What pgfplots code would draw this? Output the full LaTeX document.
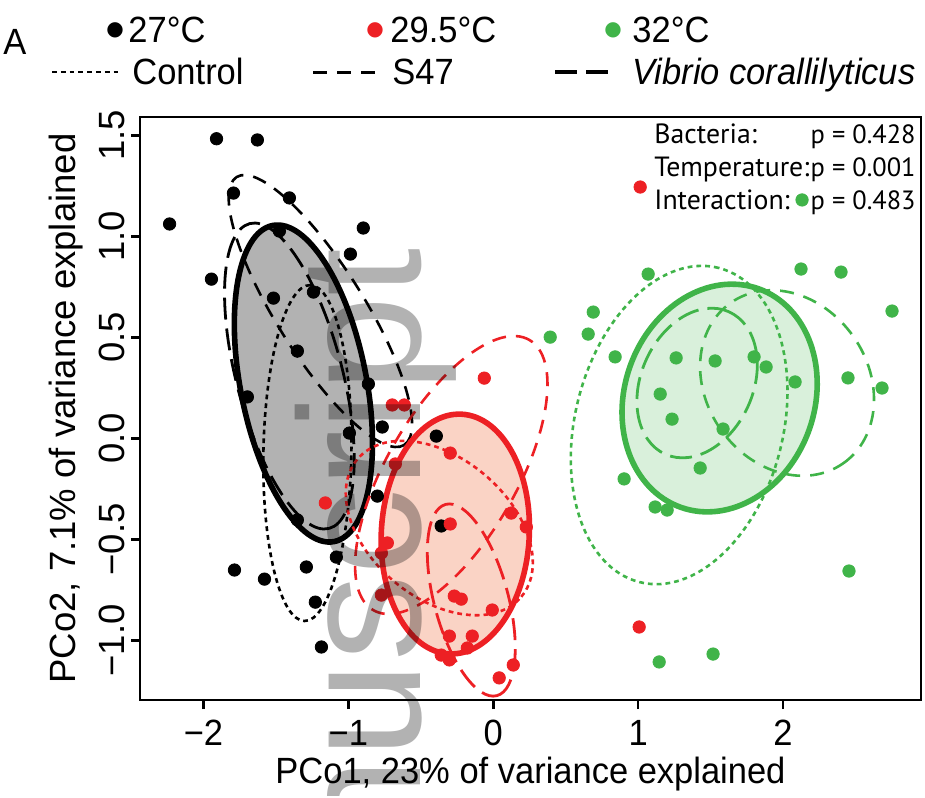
\documentclass[border=0pt]{standalone}
\usepackage{fontspec}
\usepackage{pgfplots}
\pgfplotsset{compat=1.18}
\setmainfont[FakeStretch=0.945]{Liberation Sans}
\newfontfamily\vfont{Liberation Sans}
\newfontfamily\pfont{PT Sans}
\newfontfamily\dfont{DejaVu Sans}

\definecolor{cred}{RGB}{237,32,36}
\definecolor{cgreen}{RGB}{64,180,73}
\definecolor{redfill}{RGB}{240,130,90}

\tikzset{
  ctrl/.style={dash pattern=on 2.4pt off 2pt, line width=1.3pt},
  sfs/.style={dash pattern=on 7pt off 5pt, line width=1.3pt},
  vib/.style={dash pattern=on 11pt off 4.5pt, line width=1.4pt},
  sol/.style={line width=2.8pt},
}
% style, cx, cy, semi-axis a (pt), semi-axis b (pt), angle
\newcommand{\ellip}[6]{%
  \draw[#1, rotate around={#6:(axis cs:#2,#3)}] (axis cs:#2,#3) ellipse [x radius=#4pt, y radius=#5pt];}

\newcommand{\lbl}{\fontsize{18.25}{20}\selectfont}

\begin{document}
\begin{tikzpicture}
\begin{scope}[x=0.5pt,y=-0.5pt]
  \path[use as bounding box] (0,0) rectangle (925,795);
\end{scope}

\begin{axis}[
  at={(70pt,-350pt)}, anchor=south west,
  scale only axis, width=390.5pt, height=291.5pt,
  xmin=-2.438, xmax=2.952, ymin=-1.2955, ymax=1.5906,
  axis line style={line width=1.25pt},
  tick style={line width=1.25pt, black},
  tick align=outside, tick pos=left,
  major tick length=4.5pt,
  xtick={-2,-1,0,1,2}, xticklabels={−2,−1,0,1,2},
  ytick={-1,-0.5,0,0.5,1,1.5}, yticklabels={−1.0,−0.5,0.0,0.5,1.0,1.5},
  xticklabel style={font=\lbl, anchor=base, yshift=-18pt},
  yticklabel style={font=\vfont\fontsize{18.25}{20}\selectfont, xshift=-3.5pt, rotate=90, anchor=base},
  xlabel={PCo1, 23\% of variance explained},
  ylabel={PCo2, 7.1\% of variance explained},
  xlabel style={font=\lbl, at={(axis description cs:0.5,-0.1424)}, anchor=base},
  ylabel style={font=\vfont\fontsize{18.25}{20}\selectfont, at={(axis description cs:-0.0832,0.5)}, anchor=base},
]
% ellipses: black
\ellip{black, sol, fill=black, fill opacity=0.3}{-1.3103}{0.2713}{80.5}{31.5}{-79}
\ellip{black, vib}{-1.4069}{0.3084}{78.75}{26.5}{-75.4}
\ellip{black, sfs}{-1.1931}{0.6302}{79}{22}{-58}
\ellip{black, ctrl}{-1.2828}{-0.0728}{84}{22}{89}
% red
\ellip{cred, sol, fill=redfill, fill opacity=0.35}{-0.2621}{-0.4738}{60}{37}{87}
\ellip{cred, ctrl}{-0.3724}{-0.4441}{53.5}{35}{-40}
\ellip{cred, sfs}{-0.2897}{-0.1817}{78}{32.5}{60}
\ellip{cred, vib}{-0.1517}{-0.8005}{49.5}{18.5}{-75}
% green
\ellip{cgreen, sol, fill=cgreen, fill opacity=0.2}{1.5621}{0.1995}{58}{47.5}{70.4}
\ellip{cgreen, ctrl}{1.2828}{0.0658}{81}{52}{75.9}
\ellip{cgreen, vib}{1.4069}{0.2738}{39}{28}{66}
\ellip{cgreen, sfs}{2.0276}{0.2738}{49}{40.5}{-55}

% 27 C
\addplot[only marks, mark=*, mark size=3.1pt, mark options={draw=black, fill=black}] coordinates {
(-1.910,1.483) (-1.628,1.477) (-1.793,1.214) (-1.407,1.190) (-2.234,1.061)
(-0.897,1.041) (-1.476,1.026) (-0.986,0.912) (-1.945,0.788) (-1.517,0.694)
(-1.241,0.724) (-1.352,0.432) (-0.862,0.269) (-1.697,0.205) (-0.766,0.056)
(-0.993,0.026) (-0.393,0.011) (-0.800,-0.286) (-1.352,-0.404) (-0.359,-0.434)
(-1.083,-0.588) (-1.290,-0.637) (-1.786,-0.652) (-1.579,-0.697) (-1.228,-0.811)
(-1.186,-1.033)
};
% 29.5 C
\addplot[only marks, mark=*, mark size=3.1pt, mark options={draw=cred, fill=cred}] coordinates {
(1.014,1.244) (-0.062,0.298) (-0.697,0.165) (-0.614,0.165) (-0.297,-0.073)
(-0.676,-0.127) (-1.159,-0.320) (0.124,-0.370) (0.228,-0.439) (-0.297,-0.424)
(-0.731,-0.518) (-0.772,-0.568) (-0.772,-0.776) (-0.269,-0.781) (-0.221,-0.796)
(-0.007,-0.850) (-0.303,-0.979) (-0.145,-0.979) (-0.359,-1.073) (-0.303,-1.097)
(-0.179,-1.038) (0.138,-1.122) (0.041,-1.186) (1.007,-0.934)
};
% 32 C
\addplot[only marks, mark=*, mark size=3.1pt, mark options={draw=cgreen, fill=cgreen}] coordinates {
(2.131,1.180) (1.069,0.813) (2.124,0.838) (2.400,0.823) (2.752,0.630)
(0.690,0.625) (0.655,0.516) (0.393,0.501) (0.841,0.403) (1.262,0.398)
(1.531,0.383) (1.800,0.403) (1.883,0.353) (2.083,0.279) (2.448,0.299)
(2.683,0.249) (1.152,0.219) (1.234,0.095) (1.586,0.046) (1.428,-0.147)
(0.903,-0.201) (1.117,-0.340) (1.200,-0.355) (2.455,-0.657) (1.145,-1.107)
(1.517,-1.068)
};
\end{axis}

\begin{scope}[x=0.5pt,y=-0.5pt]
  % statistics
  \begin{scope}[every node/.style={anchor=base west, inner sep=0, font=\pfont\fontsize{13.9}{15}\selectfont}]
    \node at (654,143) {Bacteria:};
    \node at (654,176) {Temperature:};
    \node at (654,209) {Interaction:};
  \end{scope}
  \begin{scope}[every node/.style={anchor=base east, inner sep=0, font=\pfont\fontsize{13.2}{14}\selectfont}]
    \node at (916,143) {p = 0.428};
    \node at (916,176) {p = 0.001};
    \node at (916,209) {p = 0.483};
  \end{scope}
  % key
  \node[anchor=base west, inner sep=0, font=\lbl] at (3,54) {A};
  \node[inner sep=0, text=black, font=\dfont\fontsize{10}{10}\selectfont] at (115,30) {●};
  \node[inner sep=0, text=cred, font=\dfont\fontsize{10}{10}\selectfont] at (375,30) {●};
  \node[inner sep=0, text=cgreen, font=\dfont\fontsize{10}{10}\selectfont] at (613,30) {●};
  \begin{scope}[every node/.style={anchor=base west, inner sep=0, font=\lbl}]
    \node at (128,42) {27°C};
    \node at (390,42) {29.5°C};
    \node at (632,42) {32°C};
    \node at (132,84) {Control};
    \node at (392,84) {S47};
    \node at (632,84) {\itshape Vibrio corallilyticus};
  \end{scope}
  \draw[ctrl, black] (52,72) -- (120,72);
  \draw[sfs, black, line width=1.5pt] (313,72) -- (380,72);
  \draw[vib, black, line width=2pt] (555,72) -- (612,72);
  % watermark
  \clip (0,0) rectangle (925,795);
  \node[rotate=90, anchor=base east, inner sep=0, text=black, text opacity=0.3,
        font=\vfont\fontsize{86.5}{90}\selectfont] at (420,248) {manuscript};
\end{scope}
\end{tikzpicture}
\end{document}
